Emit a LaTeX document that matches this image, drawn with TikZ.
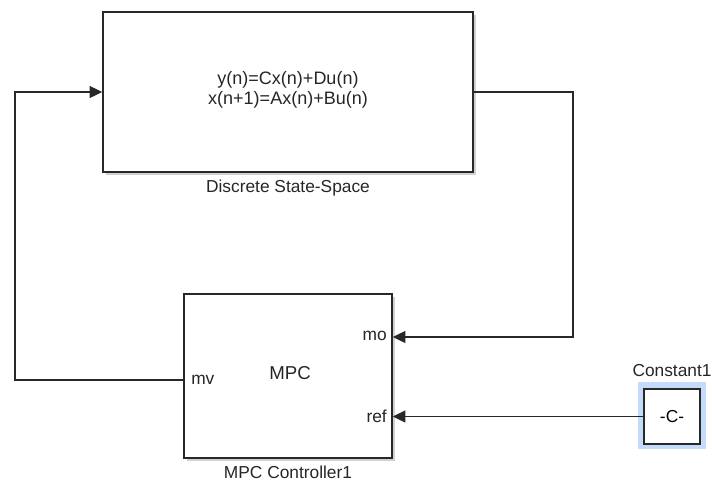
\documentclass[tikz,border=0pt]{standalone}
\usepackage{fontspec}
\setmainfont{Liberation Sans}
\usetikzlibrary{arrows.meta}
\definecolor{edge}{RGB}{40,40,40}
\definecolor{hilite}{RGB}{196,220,248}
\tikzset{
  blk/.style={draw=edge,line width=1.1pt,fill=white,inner sep=0pt,font=\fontsize{13}{16}\selectfont},
  shadow/.style={fill=black!18,draw=none},
  wire/.style={draw=edge,line width=0.9pt,-{Triangle[length=9.5pt,width=9pt]}},
  lbl/.style={font=\fontsize{13}{16}\selectfont,text=black!85,inner sep=0pt},
}
\begin{document}
\begin{tikzpicture}[x=0.75pt,y=-0.75pt]
\useasboundingbox (0,0) rectangle (712,482);
% shadows
\fill[shadow] (105.5,14.5) rectangle (475.5,174.5);
\fill[shadow] (186.5,296.5) rectangle (394.5,460.5);
% highlight
\fill[hilite] (638,382) rectangle (706,449);
% blocks
\node[blk,minimum width=277.5pt,minimum height=120pt] (ss) at (288,92) {};
\node[lbl,align=center,font=\fontsize{13.5}{14.5}\selectfont] (eq) at (288,90) {y(n)=Cx(n)+Du(n)\\x(n+1)=Ax(n)+Bu(n)};
\node[lbl] (sslbl) at (288,188) {Discrete State-Space};
\node[blk,minimum width=156pt,minimum height=123pt] (mpc) at (288,376) {};
\node[lbl,font=\fontsize{14}{16}\selectfont] (mpctxt) at (290,373) {MPC};
\node[lbl,anchor=east] (mo) at (387,336) {mo};
\node[lbl,anchor=east] (ref) at (387,416) {ref};
\node[lbl,anchor=west] (mv) at (191,380) {mv};
\node[lbl] (mpclbl) at (288,472) {MPC Controller1};
\node[blk,minimum width=42pt,minimum height=41.25pt] (const) at (672,416.5) {-C-};
\node[lbl] (constlbl) at (672,371) {Constant1};
% ports
\coordinate (pmo) at (mpc.east |- 0,337);
\coordinate (pref) at (mpc.east |- 0,416.5);
\coordinate (pmv) at (mpc.west |- 0,380);
% connectors
\draw[wire] (ss.east) -| (573,337) -- (pmo);
\draw[wire] (const.west) -- (pref);
\draw[wire] (pmv) -| (15,92) -- (ss.west);
\end{tikzpicture}
\end{document}
